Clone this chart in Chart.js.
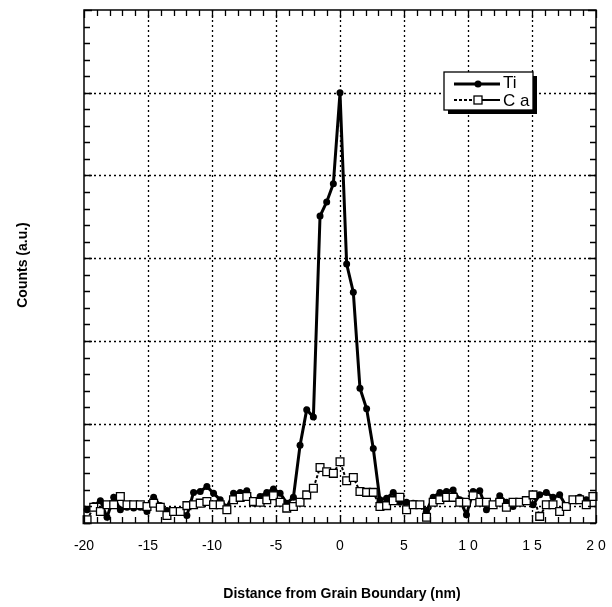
<!DOCTYPE html>
<html>
<head>
<meta charset="utf-8">
<script src="https://cdn.jsdelivr.net/npm/chart.js@4.4.1/dist/chart.umd.min.js"></script>
<style>
  html, body { margin: 0; padding: 0; background: #fff; }
  #wrap { width: 612px; height: 607px; }
</style>
</head>
<body>
<div id="wrap"><canvas id="canvas" width="612" height="607"></canvas></div>
<script>
  // distance from grain boundary (nm)
  var distance = [-19.76, -19.24, -18.72, -18.20, -17.68, -17.16, -16.64, -16.12, -15.60, -15.08,
    -14.56, -14.04, -13.52, -13.00, -12.48, -11.96, -11.44, -10.92, -10.40, -9.88,
    -9.36, -8.84, -8.32, -7.80, -7.28, -6.76, -6.24, -5.72, -5.20, -4.68,
    -4.16, -3.64, -3.12, -2.60, -2.08, -1.56, -1.04, -0.52, 0,
    0.52, 1.04, 1.56, 2.08, 2.60, 3.12, 3.64, 4.16, 4.68, 5.20,
    5.72, 6.24, 6.76, 7.28, 7.80, 8.32, 8.84, 9.36, 9.88, 10.40,
    10.92, 11.44, 11.96, 12.48, 13.00, 13.52, 14.04, 14.56, 15.08, 15.60,
    16.12, 16.64, 17.16, 17.68, 18.20, 18.72, 19.24, 19.76];

  var tiCounts = [-0.04, 0.01, 0.07, -0.13, 0.11, -0.04, -0.01, -0.02, -0.01, -0.06,
    0.11, 0.01, -0.05, -0.07, -0.06, -0.11, 0.17, 0.18, 0.24, 0.16,
    0.08, -0.01, 0.16, 0.17, 0.19, 0.04, 0.12, 0.17, 0.21, 0.16,
    0.04, 0.11, 0.74, 1.17, 1.08, 3.51, 3.68, 3.90, 5.00,
    2.93, 2.59, 1.43, 1.18, 0.70, 0.08, 0.10, 0.17, 0.05, 0.05,
    0.04, 0.02, -0.05, 0.11, 0.17, 0.18, 0.20, 0.08, -0.10, 0.18,
    0.19, -0.04, 0.01, 0.13, 0.05, 0.00, 0.05, 0.08, 0.02, 0.14,
    0.17, 0.11, 0.14, 0.00, 0.08, 0.11, 0.08, 0.12];

  var caCounts = [-0.16, -0.01, -0.06, 0.02, 0.02, 0.12, 0.02, 0.02, 0.02, 0.00,
    0.04, -0.01, -0.11, -0.06, -0.06, 0.01, 0.02, 0.04, 0.06, 0.02,
    0.02, -0.04, 0.08, 0.11, 0.12, 0.06, 0.05, 0.08, 0.13, 0.05,
    -0.02, 0.00, 0.05, 0.14, 0.22, 0.47, 0.42, 0.40, 0.54,
    0.31, 0.35, 0.18, 0.17, 0.17, 0.00, 0.01, 0.07, 0.11, -0.04,
    0.02, 0.02, -0.13, 0.05, 0.08, 0.11, 0.11, 0.05, 0.05, 0.13,
    0.05, 0.05, 0.02, 0.05, -0.01, 0.05, 0.05, 0.07, 0.14, -0.12,
    0.02, 0.02, -0.06, 0.00, 0.08, 0.08, 0.02, 0.12];

  var xTickValues = [-20, -15, -10, -5, 0, 5, 10, 15, 20];
  var xTickLabels = ['-20', '-15', '-10', '-5', '0', '5', '1 0', '1 5', '2 0'];
  var seriesNames = ['Ti', 'C a'];

  function toPoints(xs, ys)
  {
    var pts = [];
    for (var i = 0; i < xs.length; i++)
    {
      pts.push({x: xs[i], y: ys[i]});
    }
    return pts;
  }

  // axes frame, dotted grid, inward ticks, labels and legend
  var framePlugin = {
    id: 'frame',
    beforeDatasetsDraw: function(chart)
    {
      var ctx = chart.ctx, a = chart.chartArea;
      var xs = chart.scales.x, ys = chart.scales.y;
      ctx.save();
      ctx.strokeStyle = '#000';
      ctx.lineWidth = 1.3;
      ctx.setLineDash([2, 3]);
      for (var v = -15; v <= 15; v += 5)
      {
        var px = Math.round(xs.getPixelForValue(v)) + 0.5;
        ctx.beginPath(); ctx.moveTo(px, a.top); ctx.lineTo(px, a.bottom); ctx.stroke();
      }
      for (var w = 0; w <= 5; w++)
      {
        var py = Math.round(ys.getPixelForValue(w)) + 0.5;
        ctx.beginPath(); ctx.moveTo(a.left, py); ctx.lineTo(a.right, py); ctx.stroke();
      }
      ctx.restore();
    },
    afterDatasetsDraw: function(chart)
    {
      var ctx = chart.ctx, a = chart.chartArea;
      var xs = chart.scales.x, ys = chart.scales.y;
      ctx.save();
      ctx.setLineDash([]);
      ctx.strokeStyle = '#000';
      ctx.lineWidth = 1.5;
      ctx.strokeRect(a.left, a.top, a.right - a.left, a.bottom - a.top);

      // x ticks, every 1 nm, top and bottom
      ctx.lineWidth = 1.3;
      for (var i = -20; i <= 20; i++)
      {
        var px = Math.round(xs.getPixelForValue(i)) + 0.5;
        var len = (i % 5 === 0) ? 8 : 6;
        ctx.beginPath();
        ctx.moveTo(px, a.bottom); ctx.lineTo(px, a.bottom - len);
        ctx.moveTo(px, a.top); ctx.lineTo(px, a.top + len);
        ctx.stroke();
      }
      // y ticks, every 0.2, left and right
      for (var j = -1; j <= 30; j++)
      {
        var py = Math.round(ys.getPixelForValue(j / 5)) + 0.5;
        var ylen = (j % 5 === 0) ? 8 : 6;
        ctx.beginPath();
        ctx.moveTo(a.left, py); ctx.lineTo(a.left + ylen, py);
        ctx.moveTo(a.right, py); ctx.lineTo(a.right - ylen, py);
        ctx.stroke();
      }

      // tick labels
      ctx.fillStyle = '#000';
      ctx.font = '14px "Liberation Sans", Arial, sans-serif';
      ctx.textAlign = 'center';
      ctx.textBaseline = 'middle';
      for (var k = 0; k < xTickValues.length; k++)
      {
        ctx.fillText(xTickLabels[k], xs.getPixelForValue(xTickValues[k]), 546);
      }

      // axis titles
      ctx.font = 'bold 14px "Liberation Sans", Arial, sans-serif';
      ctx.fillText('Distance from Grain Boundary (nm)', 342, 594);
      ctx.save();
      ctx.translate(23, 265);
      ctx.rotate(-Math.PI / 2);
      ctx.fillText('Counts (a.u.)', 0, 0);
      ctx.restore();

      // legend box with shadow
      var lx = 444, ly = 72, lw = 89, lh = 38;
      ctx.fillStyle = '#000';
      ctx.fillRect(lx + 4, ly + 4, lw, lh);
      ctx.fillStyle = '#fff';
      ctx.fillRect(lx, ly, lw, lh);
      ctx.lineWidth = 1.3;
      ctx.strokeRect(lx, ly, lw, lh);

      ctx.fillStyle = '#000';
      ctx.lineWidth = 3;
      ctx.beginPath(); ctx.moveTo(454, 84); ctx.lineTo(500, 84); ctx.stroke();
      ctx.beginPath(); ctx.arc(478, 84, 3.5, 0, Math.PI * 2); ctx.fill();

      ctx.lineWidth = 2;
      ctx.setLineDash([3, 2]);
      ctx.beginPath(); ctx.moveTo(454, 100); ctx.lineTo(474, 100); ctx.stroke();
      ctx.setLineDash([]);
      ctx.beginPath(); ctx.moveTo(482, 100); ctx.lineTo(500, 100); ctx.stroke();
      ctx.fillStyle = '#fff';
      ctx.lineWidth = 1.3;
      ctx.fillRect(474, 96, 8, 8);
      ctx.strokeRect(474, 96, 8, 8);

      ctx.fillStyle = '#000';
      ctx.font = '17px "Liberation Sans", Arial, sans-serif';
      ctx.textAlign = 'left';
      ctx.fillText(seriesNames[0], 503, 83);
      ctx.fillText(seriesNames[1], 503, 101);
      ctx.restore();
    }
  };

  var ctx = document.getElementById("canvas").getContext("2d");
  window.myLine = new Chart(ctx, {
    type: 'line',
    data: {
      datasets: [
        {
          label: 'Ti',
          data: toPoints(distance, tiCounts),
          borderColor: '#000',
          backgroundColor: '#000',
          borderWidth: 3,
          pointRadius: 3.5,
          pointBorderWidth: 0,
          pointBackgroundColor: '#000',
          tension: 0,
          clip: false,
          order: 1
        },
        {
          label: 'Ca',
          data: toPoints(distance, caCounts),
          borderColor: '#000',
          borderWidth: 2,
          borderDash: [3, 2],
          pointStyle: 'rect',
          pointRadius: 5.5,
          pointBorderWidth: 1.3,
          pointBackgroundColor: '#fff',
          pointBorderColor: '#000',
          tension: 0,
          clip: false,
          order: 0
        }
      ]
    },
    options: {
      responsive: false,
      animation: false,
      layout: {
        padding: {left: 84, right: 16, top: 10, bottom: 84}
      },
      scales: {
        x: {type: 'linear', min: -20, max: 20, display: false},
        y: {type: 'linear', min: -0.2, max: 6, display: false}
      },
      plugins: {
        legend: {display: false},
        tooltip: {enabled: false}
      }
    },
    plugins: [framePlugin]
  });
</script>
</body>
</html>
